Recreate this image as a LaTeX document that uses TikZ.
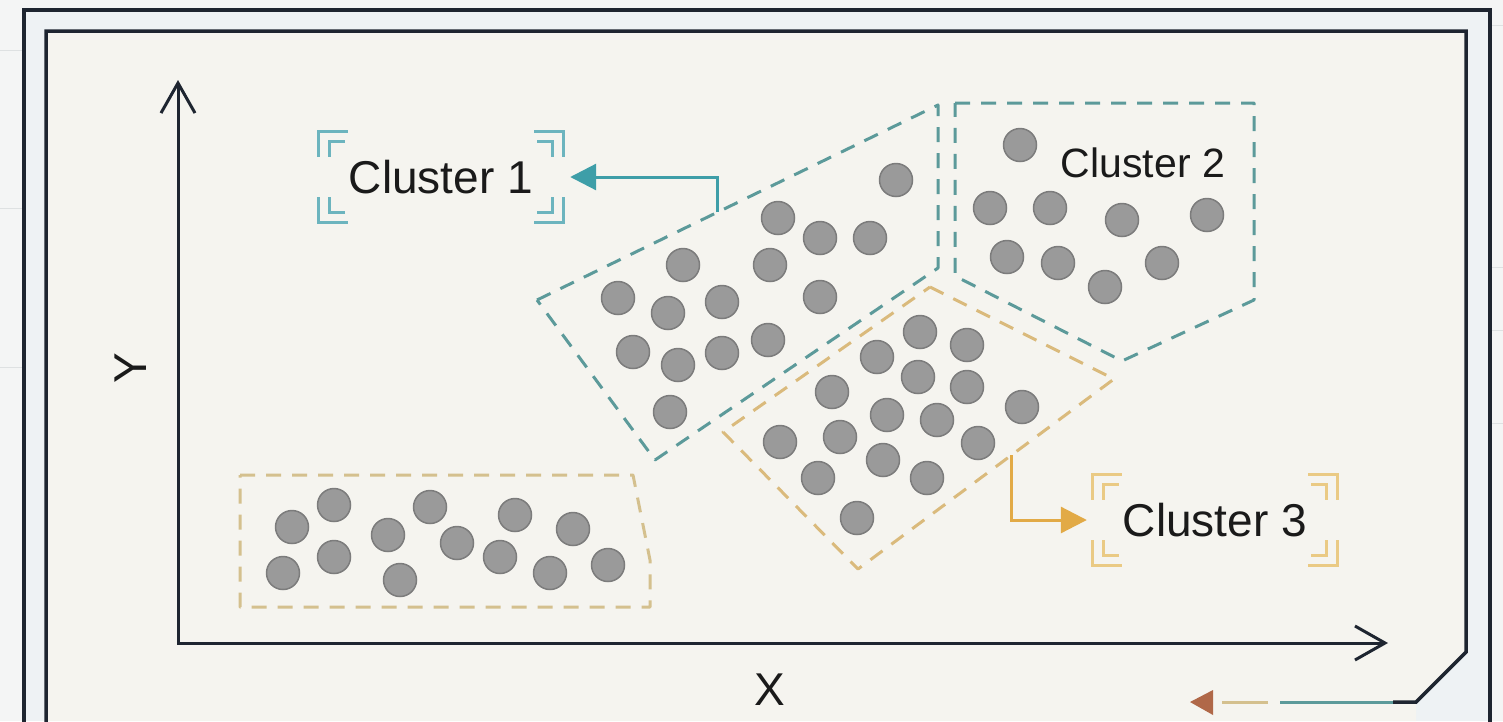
\documentclass[tikz,border=0pt]{standalone}
\usepackage{fontspec}
\setmainfont{Liberation Sans}
\usetikzlibrary{positioning, arrows.meta, calc}
\definecolor{pagebg}{RGB}{244,245,245}
\definecolor{gapbg}{RGB}{238,242,244}
\definecolor{plotbg}{RGB}{245,244,239}
\definecolor{gridfaint}{RGB}{222,225,226}
\definecolor{framedark}{RGB}{30,37,48}
\definecolor{inkdark}{RGB}{26,26,26}
\definecolor{hullteal}{RGB}{92,154,154}
\definecolor{arrowteal}{RGB}{62,158,168}
\definecolor{markteal}{RGB}{108,180,190}
\definecolor{hullorange}{RGB}{218,186,124}
\definecolor{hullsand}{RGB}{212,192,142}
\definecolor{arroworange}{RGB}{226,170,70}
\definecolor{markorange}{RGB}{234,202,132}
\definecolor{dotfill}{RGB}{154,154,154}
\definecolor{dotline}{RGB}{124,124,124}
\definecolor{tipbrown}{RGB}{176,104,72}

\tikzset{
  frame/.style={draw=framedark, line width=3.5pt, line join=miter},
  axis/.style={draw=framedark, line width=3pt,
    {Straight Barb[length=30pt, width=34pt]}-{Straight Barb[length=30pt, width=34pt]}},
  axislabel/.style={text=inkdark, font=\fontsize{46}{50}\selectfont},
  hull/.style={line width=3pt, dash pattern=on 15pt off 11pt, line join=round},
  dot/.style={circle, fill=dotfill, draw=dotline, line width=1.5pt, minimum size=33pt, inner sep=0pt},
  tag/.style={text=inkdark, minimum width=244pt, minimum height=90pt, inner sep=0pt, font=\fontsize{46}{50}\selectfont},
  bracket/.style={line width=3pt},
  callout/.style={line width=3pt, -{Triangle[length=26pt, width=26pt]}},
}

% double corner marks round a label node
\newcommand{\cornermarks}[2]{%
  \foreach \corner/\sx/\sy in {north west/1/1, north east/-1/1, south west/1/-1, south east/-1/-1}{
    \draw[bracket, #2] ([shift={(0,\sy*25)}]#1.\corner) -- (#1.\corner) -- ([shift={(\sx*29,0)}]#1.\corner);
    \draw[bracket, #2] ([shift={(\sx*11,\sy*25)}]#1.\corner) -- ([shift={(\sx*11,\sy*10)}]#1.\corner) -- ([shift={(\sx*26,\sy*10)}]#1.\corner);
  }}

\begin{document}
\begin{tikzpicture}[x=1pt, y=-1pt]
    \useasboundingbox (0,0) rectangle (1503,721);
    \fill[pagebg] (0,0) rectangle (1503,721);
    \foreach \gy in {50, 208, 367}
        \draw[gridfaint, line width=1pt] (0,\gy) -- (22,\gy);
    \foreach \gy in {25, 267, 330, 423}
        \draw[gridfaint, line width=1pt] (1492,\gy) -- (1503,\gy);

    % frames
    \fill[gapbg] (24,10) rectangle (1490,721);
    \fill[plotbg] (46,31) -- (1466,31) -- (1466,652) -- (1416,702) -- (1416,721) -- (46,721) -- cycle;
    \draw[frame] (24,725) -- (24,10) -- (1490,10) -- (1490,725);
    \draw[frame] (46,725) -- (46,31) -- (1466,31) -- (1466,652) -- (1416,702) -- (1393,702);
    \draw[line width=3pt, hullteal] (1393,702) -- (1280,702);
    \draw[line width=3pt, hullsand] (1268,702) -- (1222,702);
    \fill[tipbrown] (1190,702) -- (1213,690) -- (1213,715) -- cycle;

    % axes
    \coordinate (origin) at (178,643);
    \coordinate (ytop) at (178,80);
    \coordinate (xend) at (1388,643);
    \draw[axis] (ytop) -- (origin) -- (xend);
    \node[axislabel, rotate=90] (ylabel) at (131,368) {Y};
    \node[axislabel] (xlabel) at (770,690) {X};

    % cluster outlines
    \coordinate (c1a) at (537,300);
    \coordinate (c1b) at (938,105);
    \coordinate (c3b) at (1114,379);
    \coordinate (c3c) at (858,569);
    \draw[hull, hullteal] (c1a) -- (c1b) -- (938,268) -- (655,460) -- cycle;
    \draw[hull, hullteal] (955,103) -- (1254,103) -- (1254,300) -- (1122,361) -- (955,276) -- cycle;
    \draw[hull, hullorange] (930,287) -- (c3b) -- (c3c) -- (723,432) -- cycle;
    \draw[hull, hullsand] (240,475) -- (633,475) -- (650,560) -- (650,607) -- (240,607) -- cycle;

    % points
    \foreach \px/\py [count=\i] in {896/180, 778/218, 820/238, 870/238, 683/265, 770/265, 618/298, 668/313,
        722/302, 820/297, 633/352, 678/365, 722/353, 768/340, 670/412,
        1020/145, 990/208, 1050/208, 1122/220, 1207/215, 1007/257, 1058/263, 1105/287, 1162/263,
        920/332, 967/345, 877/357, 918/377, 967/387, 832/392, 887/415, 937/420, 1022/407,
        780/442, 840/437, 978/443, 883/460, 818/478, 927/478, 857/518,
        292/527, 334/505, 283/573, 334/557, 388/535, 430/507, 400/580, 457/543,
        515/515, 500/557, 573/529, 550/573, 608/565}
        \node[dot] (p\i) at (\px,\py) {};

    % labels
    \node[tag] (c1tag) at (441,177) {Cluster 1};
    \cornermarks{c1tag}{markteal}
    \node[text=inkdark, font=\fontsize{41}{45}\selectfont] (c2tag) at (1143,163) {Cluster 2};
    \node[tag] (c3tag) at (1215,520) {Cluster 3};
    \cornermarks{c3tag}{markorange}

    \coordinate (c1tap) at ($(c1a)!0.451!(c1b)$);
    \coordinate (c3tap) at ($(c3b)!0.40!(c3c)$);
    \draw[callout, arrowteal, shorten >=7pt] (c1tap) |- (c1tag.east);
    \draw[callout, arroworange, shorten >=6pt] (c3tap) |- (c3tag.west);
\end{tikzpicture}
\end{document}
